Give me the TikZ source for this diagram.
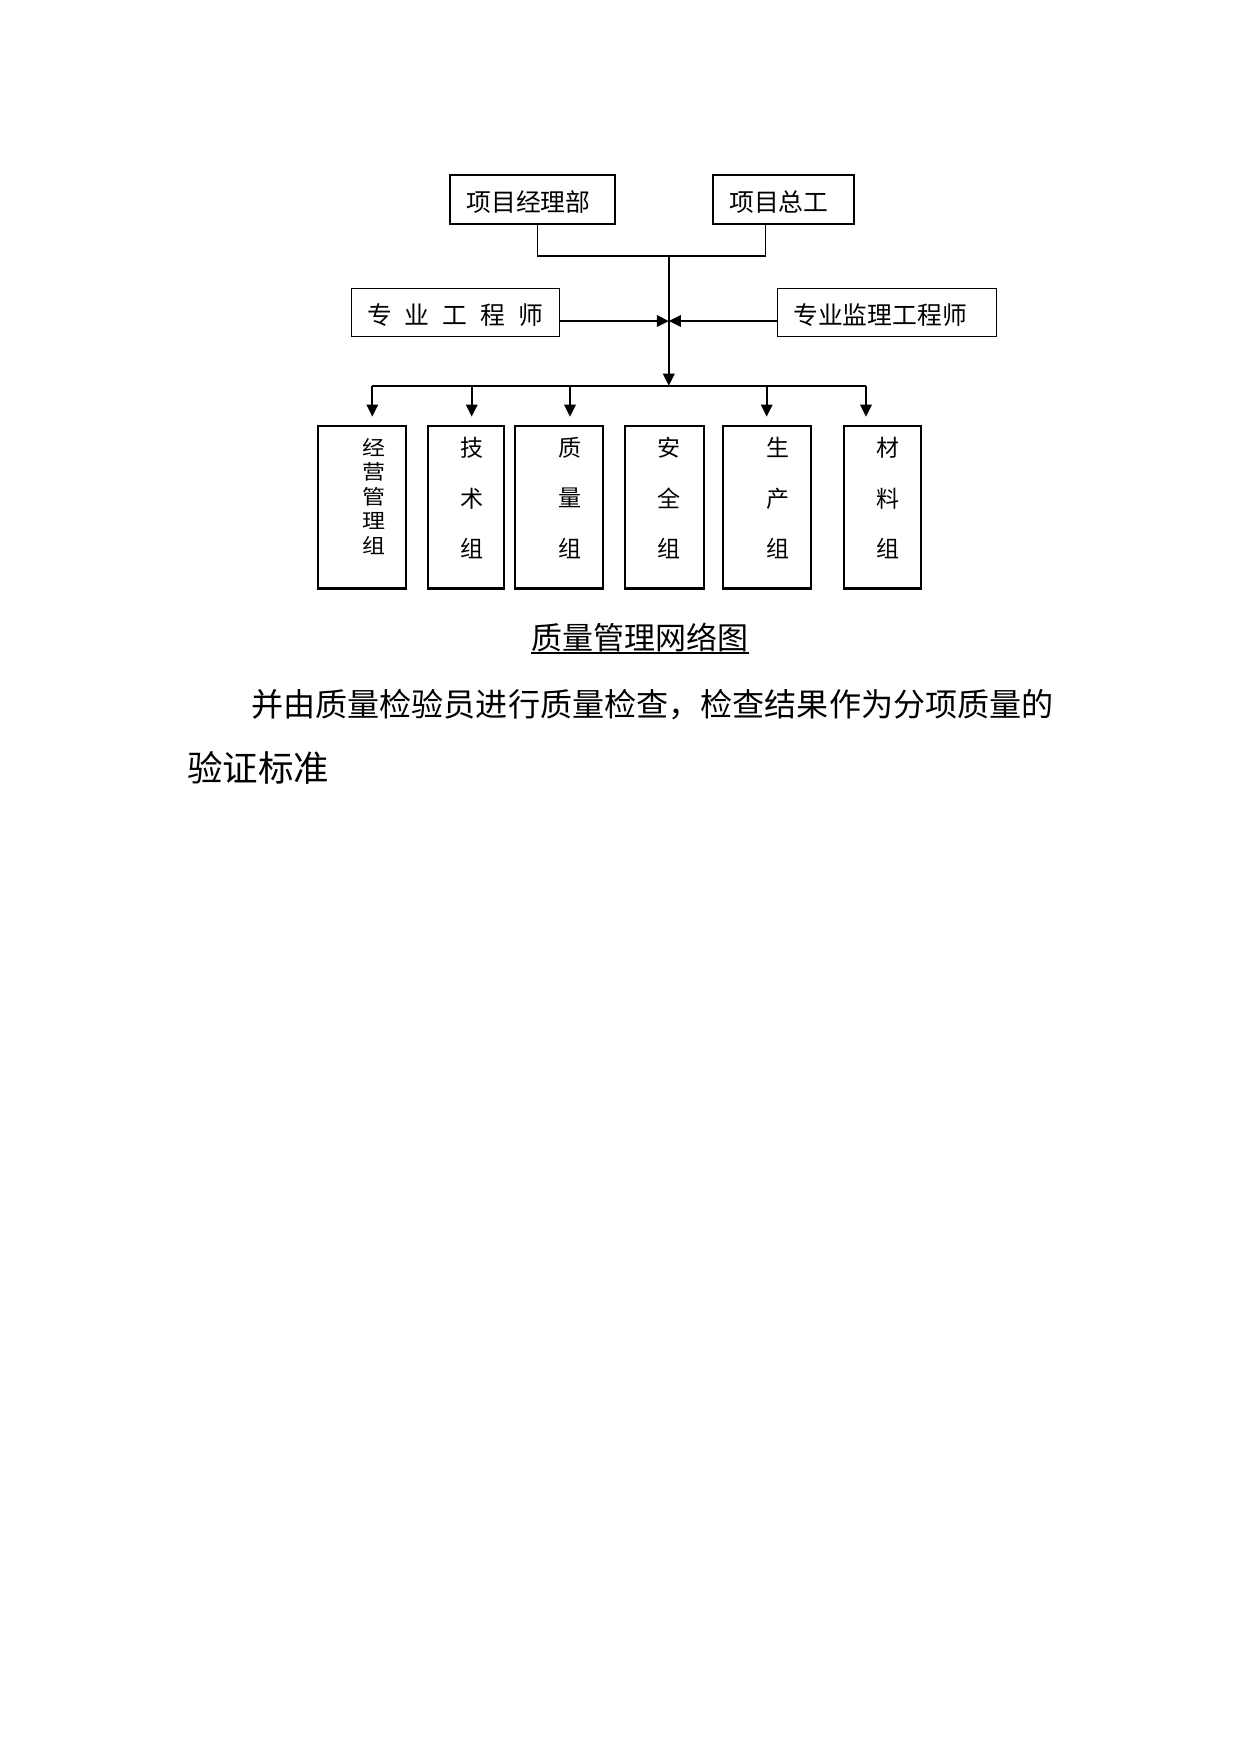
\documentclass[tikz,border=0pt]{standalone}
\usepackage{fontspec}
\usepackage{graphicx}
\newfontfamily\cjk{Noto Sans CJK SC}
\usetikzlibrary{arrows.meta}
\begin{document}
\begin{tikzpicture}[x=1pt,y=-1pt,
  topbox/.style={draw,line width=1.9pt,inner xsep=16.5pt,inner ysep=0pt,align=left,
    font=\cjk\fontsize{24.8}{28}\selectfont,minimum height=48.6pt,text height=26.5pt,text depth=3pt},
  midbox/.style={draw,line width=1.5pt,inner xsep=15.5pt,inner ysep=0pt,align=left,
    font=\cjk\fontsize{24.8}{28}\selectfont,minimum height=48.4pt,text height=26pt,text depth=3pt},
  grpbox/.style={draw,line width=2.1pt,minimum height=162.5pt,inner sep=0pt},
  grptext/.style={font=\cjk\fontsize{23}{50.5}\selectfont,align=center,inner sep=0pt},
  conn/.style={line width=1.1pt},
  link/.style={line width=1.8pt},
  arr/.style={line width=1.8pt,-{Triangle[length=12pt,width=11.5pt]}},
  para/.style={inner sep=0pt,anchor=west}]
\fill[white] (0,0) rectangle (1241,1754);
\useasboundingbox (0,0) rectangle (1241,1754);

% top boxes
\node[topbox,text width=132.3pt] (pm) at (532.7,199.3) {项目经理部};
\node[topbox,text width=108.3pt] (zg) at (783.4,199.3) {项目总工};
% middle boxes
\node[midbox,text width=176.6pt] (eng) at (455.5,312.5)
  {\mbox{专\hspace{13pt}业\hspace{13pt}工\hspace{13pt}程\hspace{13pt}师}};
\node[midbox,text width=188pt] (sup) at (887.2,312.5) {专业监理工程师};

% junctions
\coordinate (j1) at (668.8,256);
\coordinate (jm) at (668.8,321);
\coordinate (j2) at (668.8,385.7);
\coordinate (d1) at (372.3,385.7);
\coordinate (d2) at (471.7,385.7);
\coordinate (d3) at (570.0,385.7);
\coordinate (d4) at (766.7,385.7);
\coordinate (d5) at (866.0,385.7);

% group boxes
\node[grpbox,minimum width=87.7pt] (jy) at (362.15,507.2) {};
\node[grpbox,minimum width=75.7pt] (js) at (466.15,507.2) {};
\node[grpbox,minimum width=88.3pt] (zl) at (559.15,507.2) {};
\node[grpbox,minimum width=79pt] (aq) at (664.5,507.2) {};
\node[grpbox,minimum width=87.5pt] (sc) at (766.95,507.2) {};
\node[grpbox,minimum width=77pt] (cl) at (882.5,507.2) {};

% group texts
\node[grptext,font=\cjk\fontsize{23}{24.5}\selectfont] (jyt) at (373.7,496.5)
  {\scalebox{1}[0.88]{经}\\\scalebox{1}[0.88]{营}\\\scalebox{1}[0.88]{管}\\\scalebox{1}[0.88]{理}\\\scalebox{1}[0.88]{组}};
\node[grptext] (jst) at (471.7,498) {技\\术\\组};
\node[grptext] (zlt) at (570.0,498) {质\\量\\组};
\node[grptext] (aqt) at (668.8,498) {安\\全\\组};
\node[grptext] (sct) at (777.5,498) {生\\产\\组};
\node[grptext] (clt) at (887.5,498) {材\\料\\组};

% connectors
\draw[conn] ([xshift=88.3pt]pm.south west) |- (j1);
\draw[conn] ([xshift=54pt]zg.south west) |- (j1);
\draw[arr] (j1) -- (j2);
\draw[arr] (eng.east |- jm) -- (jm);
\draw[arr] (sup.west |- jm) -- (jm);
\draw[link] (d1) -- (d5);
\draw[arr,shorten >=8.3pt] (d1) -- (d1 |- jy.north);
\draw[arr,shorten >=8.3pt] (d2) -- (d2 |- js.north);
\draw[arr,shorten >=8.3pt] (d3) -- (d3 |- zl.north);
\draw[arr,shorten >=8.3pt] (d4) -- (d4 |- sc.north);
\draw[arr,shorten >=8.3pt] (d5) -- (d5 |- cl.north);

% caption
\node[font=\cjk\fontsize{31}{36}\selectfont,inner sep=0pt] (cap) at (640,638) {质量管理网络图};
\coordinate (ul) at (0,652.7);
\draw[line width=1.6pt] (cap.west |- ul) -- (cap.east |- ul);

% paragraph
\node[para,font=\cjk\fontsize{32.1}{36}\selectfont] (p1) at (251,705) {并由质量检验员进行质量检查，检查结果作为分项质量的};
\node[para,font=\cjk\fontsize{35.5}{40}\selectfont] (p2) at (187,768) {验证标准};
\end{tikzpicture}
\end{document}
